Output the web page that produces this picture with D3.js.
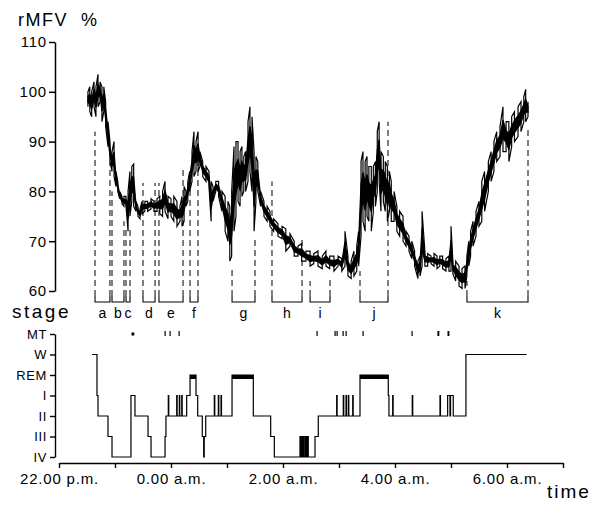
<!DOCTYPE html>
<html>
<head>
<meta charset="UTF-8">
<script src="https://cdn.jsdelivr.net/npm/d3@7"></script>
<style>
  body { margin: 0; background: #fff; }
  svg { font-family: "Liberation Sans", Arial, sans-serif; }
</style>
</head>
<body>
<svg id="chart" width="602" height="505"></svg>
<script>
// all times in minutes after 22.00 h

// rMFV % trace: [minute, low, high]
const flowSamples = [
  [31,97,100],[33,96,101],[35,95,100],[37.5,97,102],[39.6,95,101],[41.8,97,103.5],
  [44,98,102],[46,94,101],[48,96,101],[50,93,98],[52.5,89,94],[54.6,86,90],
  [56.8,84,88],[59,83,90],[61,81,84],[63,80,82],[65,78.5,80],[67.5,77.5,79],
  [69.6,77,79],[71.8,77,79],[74,72,80],[76,75,84],[78,78,85],[80,77,85.5],
  [82.5,76,78],[84.6,75,77],[86.8,74.5,76.5],[89,75.5,78],[92,76,78],[95,76,78],
  [98.6,76.5,78.5],[101.8,76,78],[105,76,78.5],[108,75.5,79],[111,75,80],[113.6,76,82],
  [116.8,74.5,79],[120,75,78.5],[123,74,79],[126.4,73,78],[129.6,74,77],[131.8,73,79],
  [134,74,81],[136,77,80],[138,78,82],[140,80,84],[142.5,82,88],[144.6,83,92],
  [146.8,84,90],[149,84,92],[151,85,88],[154,83,86],[157.5,82,85],[160.7,81,84],
  [163,74,82],[165,78,81],[168,80,82],[171,79,82],[174.6,76,80],[178,72,79],
  [181,70,78],[183,66,77],[185,67,80],[187.5,72,89],[189.6,75,90],[191.8,78,90],
  [194,77,88],[196,79,89],[198,80,87],[200,80,88],[202.5,82,94],[204.6,84,97],
  [206.8,80,95],[209,72,88],[211,78,87],[213,80,86],[216,77,80],[219.6,75,78],
  [223,74,77],[226,73,76],[230,72,74.5],[234.6,71,73.5],[239,70.5,73],[243,68,72.5],
  [247.5,69,71.5],[252,67,70],[256,67,69],[260,66,69.5],[264.6,66,68],[269,65,68],
  [273,65.5,67.5],[277.5,65,68],[282,64.5,67],[286,65,68],[290,64.5,67],[294.6,64,67],
  [299,65,67],[303,64,66.5],[306.4,65,72],[309.6,63,67],[313,62.5,66],[316,63,68],
  [319,64,69],[321,65,72],[323.6,71,86],[325.7,74,88],[328,72,86],[330,75,87],
  [332,74,85],[334.6,72,85],[336.8,76,85],[339,77,86],[341,80,92],[343,82,94],
  [345,76,88],[347.5,78,87],[349.6,76,86],[351.8,74,85],[354,76,84],[356,74,82],
  [359,74,80],[362,72,77],[365,71,76],[368.6,70,75],[371.8,69,72],[375,68,71],
  [378,66.5,70],[381,65,68],[384.6,62.5,66],[386.8,63,67],[389,65,76],[392,65,68],
  [395,65,67.5],[398.6,65.5,67],[401.8,65,67.5],[405,64.5,67],[408,65,67],[411,64.5,67],
  [414.6,64,66.5],[417.8,64,67],[420,64,73],[422,63.5,66],[425,62,66],[428.6,61,65],
  [431.8,60.5,64.5],[435,60.5,65],[437,63,67],[439,65,70],[441,67,72],[443.6,69,74],
  [446.8,71,76],[450,73,78],[453,74,82],[456,76,84],[460,80,86],[463,82,88],
  [466,84,90],[469,86,92],[472.5,87,93],[475.7,88,97],[479,88,94],[482,86,94],
  [485,89,95],[488,90,96],[491.8,91,97],[495,92,98],[498,94,99],[500,94,100.5],
  [502.5,95,98]
];

// episodes: [label, start, end, dashed top at start (rMFV %), dashed top at end]
const episodes = [
  ["a",38.6,54.6,92,86],["b",56.8,69.6,80,74],["c",71.8,76.1,73,73],
  ["d",90,102.9,81.7,81.7],["e",107.1,132.9,81.7,85],["f",140.4,148.9,84,88],
  ["g",185.4,210,65,71],["h",228.2,260.4,82,70.7],["i",269,290.4,62,62.6],
  ["j",322.5,352.5,64,94],["k",437.1,502.5,62,93]
];

// movement time marks: [minute, duration]
const movementTimes = [
  [78.2,3],[113.6,1],[118.9,1],[128.6,1],[276.4,1],[295.7,1],[297.9,1],
  [304.3,1],[307.5,1],[325.7,1],[378.2,1],[406,2],[416.8,2]
];

const stages = ["MT","W","REM","I","II","III","IV"];

// hypnogram: [minute, stage from that minute on]
const hypnogram = [
  [35.4,"W"],[40.7,"I"],[41.8,"II"],[52.5,"III"],[56.8,"IV"],[77.1,"I"],[81.4,"II"],
  [95.4,"III"],[98.6,"IV"],[113.6,"III"],[114.6,"II"],
  [117.1,"I"],[117.6,"II"],[126.1,"I"],[126.6,"II"],[128.9,"I"],[129.4,"II"],
  [131.5,"I"],[132,"II"],[136.8,"I"],[140.4,"REM"],[146.8,"I"],[148.6,"II"],
  [153.5,"III"],[155,"IV"],[155.6,"III"],[157.2,"II"],
  [166.4,"I"],[166.9,"II"],[170.7,"I"],[171.2,"II"],[173.6,"I"],[174.1,"II"],
  [185.4,"REM"],[208.2,"II"],[226.8,"III"],[230.7,"IV"],
  [258.2,"III"],[259,"IV"],[259.6,"III"],[260.6,"IV"],[261.4,"III"],[262.2,"IV"],
  [263.6,"III"],[264.4,"IV"],[265,"III"],[266,"IV"],[266.6,"III"],[267.1,"IV"],
  [274.3,"III"],[277.8,"II"],
  [297.5,"I"],[298,"II"],[304.6,"I"],[305.1,"II"],[307.5,"I"],[308,"II"],
  [310,"I"],[310.5,"II"],[314.7,"I"],[315.2,"II"],
  [322.5,"REM"],[352.8,"I"],[353.5,"II"],[357.5,"I"],[358,"II"],
  [378.5,"I"],[379,"II"],[408.2,"I"],[408.7,"II"],
  [416.4,"I"],[418.9,"II"],[419.5,"I"],[422.4,"II"],
  [436,"W"],[501,"W"]
];

const hourTicks = d3.range(0, 541, 60);
const hourLabels = {0: "22.00 p.m.", 120: "0.00 a.m.", 240: "2.00 a.m.", 360: "4.00 a.m.", 480: "6.00 a.m."};
const flowTicks = [60, 70, 80, 90, 100, 110];

///////////////////////scales///////////////////////////////
const svg = d3.select("#chart");
const x = d3.scaleLinear().domain([0, 540]).range([59, 563]);
const y = d3.scaleLinear().domain([60, 110]).range([291, 42]);
const ys = d3.scalePoint().domain(stages).range([334, 457]);

///////////////////////top chart///////////////////////////////
svg.append("text").attr("x", 18).attr("y", 26)
  .attr("font-size", 18).attr("letter-spacing", 1.5)
  .attr("xml:space", "preserve").text("rMFV  %");

const yAxis = svg.append("g").attr("transform", "translate(55,0)")
  .call(d3.axisLeft(y).tickValues(flowTicks).tickSize(6).tickSizeOuter(0).tickPadding(2));
yAxis.selectAll("text").attr("font-size", 15).attr("letter-spacing", 0.8).attr("fill", "#000");
yAxis.selectAll("line,path").attr("stroke", "#000").attr("stroke-width", 1.5);

// dashed episode borders and brackets
const bracketY = 302, bracketTop = 296;
episodes.forEach(([label, s, e, ts, te]) => {
  [[s, ts], [e, te]].forEach(([t, v]) => {
    svg.append("line").attr("x1", x(t)).attr("x2", x(t))
      .attr("y1", bracketTop).attr("y2", y(v))
      .attr("stroke", "#000").attr("stroke-width", 1)
      .attr("stroke-dasharray", "6,4");
  });
  svg.append("path")
    .attr("d", `M${x(s)},${bracketTop}V${bracketY}H${x(e)}V${bracketTop}`)
    .attr("fill", "none").attr("stroke", "#000").attr("stroke-width", 1.1);
  svg.append("text").attr("x", x((s + e) / 2)).attr("y", 318)
    .attr("text-anchor", "middle").attr("font-size", 14).text(label);
});

// trace: dense core band plus zigzag between low and high
svg.append("path")
  .attr("d", d3.area().x(d => x(d[0]))
    .y0(d => y(d[1] + (d[2] - d[1]) * 0.3))
    .y1(d => y(d[2] - (d[2] - d[1]) * 0.3))(flowSamples))
  .attr("fill", "#000").attr("stroke", "#000").attr("stroke-width", 1.2);

const pts = flowSamples.flatMap((d, i) => i % 2
  ? [[d[0], d[2]], [d[0], d[1]]]
  : [[d[0], d[1]], [d[0], d[2]]]);
svg.append("path")
  .attr("d", d3.line().x(d => x(d[0])).y(d => y(d[1]))(pts))
  .attr("fill", "none").attr("stroke", "#000").attr("stroke-width", 1.2)
  .attr("stroke-linejoin", "miter");

///////////////////////hypnogram///////////////////////////////
svg.append("text").attr("x", 12).attr("y", 318)
  .attr("font-size", 19).attr("letter-spacing", 2.5).text("stage");

const sAxis = svg.append("g").attr("transform", "translate(55,0)")
  .call(d3.axisLeft(ys).tickSize(5).tickSizeOuter(0).tickPadding(3));
sAxis.selectAll("text").attr("font-size", 13).attr("letter-spacing", 0.6).attr("fill", "#000");
sAxis.selectAll("line,path").attr("stroke", "#000").attr("stroke-width", 1.4);

const xAxis = svg.append("g").attr("transform", "translate(0,463)")
  .call(d3.axisBottom(x).tickValues(hourTicks).tickSize(5).tickSizeOuter(0).tickPadding(5)
    .tickFormat(d => hourLabels[d] || ""));
xAxis.selectAll("text").attr("font-size", 15).attr("letter-spacing", 0.8).attr("fill", "#000");
xAxis.selectAll("line,path").attr("stroke", "#000").attr("stroke-width", 1.4);

svg.append("text").attr("x", 547).attr("y", 498)
  .attr("font-size", 19).attr("letter-spacing", 2).text("time");

// movement time marks
svg.selectAll(".mt").data(movementTimes).join("rect")
  .attr("x", d => x(d[0]) - 0.5).attr("width", d => Math.max(1.2, x(d[1]) - x(0)))
  .attr("y", d => d[1] > 2 ? ys("MT") - 1.5 : ys("MT") - 3)
  .attr("height", d => d[1] > 2 ? 3 : 5).attr("fill", "#000");

// stage line
svg.append("path")
  .attr("d", d3.line().curve(d3.curveStepAfter).x(d => x(d[0])).y(d => ys(d[1]))(hypnogram))
  .attr("fill", "none").attr("stroke", "#000").attr("stroke-width", 1.2);

// REM periods as thick bars
hypnogram.forEach((d, i) => {
  if (d[1] === "REM" && hypnogram[i + 1]) {
    svg.append("rect").attr("x", x(d[0])).attr("y", ys("REM"))
      .attr("width", x(hypnogram[i + 1][0]) - x(d[0])).attr("height", 4)
      .attr("fill", "#000");
  }
});
</script>
</body>
</html>
